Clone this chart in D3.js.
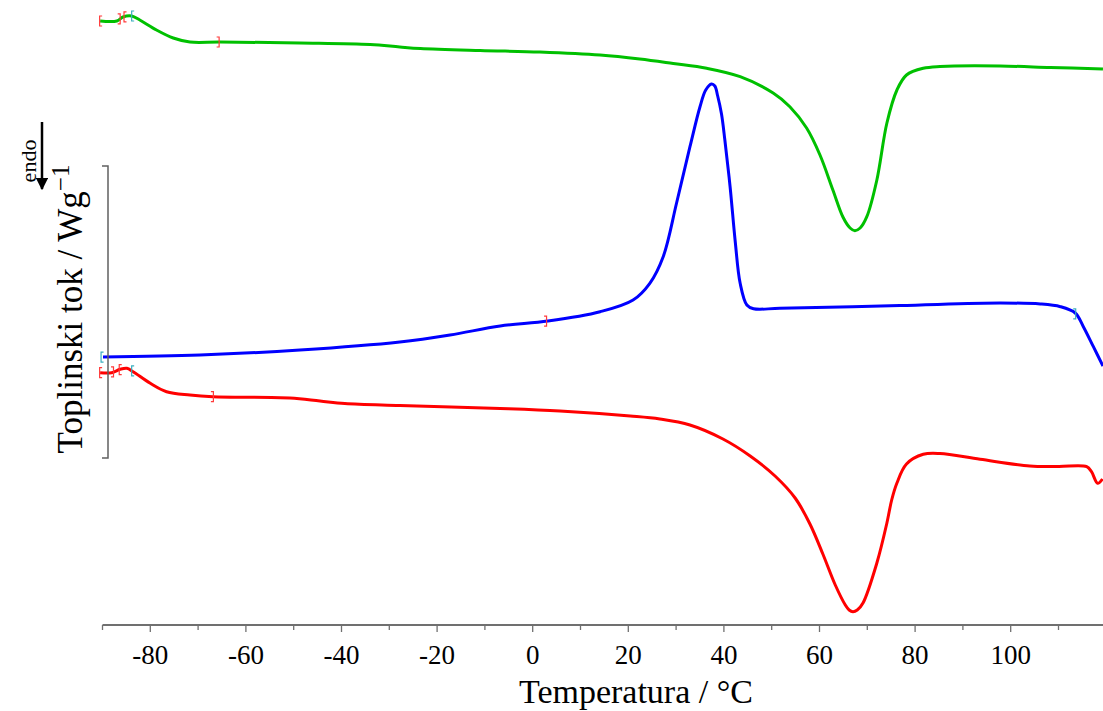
<!DOCTYPE html>
<html><head><meta charset="utf-8">
<script src="https://cdn.jsdelivr.net/npm/d3@7"></script>
<style>body{margin:0;background:#fff}svg{display:block}text{font-family:"Liberation Serif","Times New Roman",serif}</style>
</head><body>
<svg id="c" width="1103" height="711"></svg>
<script>
// Temperature (°C) / heat flow (W/g, offset curves)
const greenT = [-90.5,-87.0,-85.7,-83.9,-82.2,-78.7,-75.2,-71.7,-65.4,-48.7,-34.0,-27.8,-23.5,-11.0,1.5,14.1,22.4,29.4,36.4,43.4,50.3,53.8,57.3,60.1,62.8,64.9,66.4,67.4,68.5,69.9,72.0,74.1,76.2,78.2,81.7,85.2,97.8,108.3,119.3];
const greenV = [6.04,6.04,6.08,6.09,6.05,5.95,5.87,5.83,5.83,5.82,5.805,5.78,5.765,5.745,5.73,5.70,5.66,5.615,5.567,5.483,5.32,5.183,4.97,4.70,4.35,4.08,3.97,3.943,3.97,4.083,4.45,5.02,5.35,5.50,5.567,5.585,5.59,5.575,5.56];
const blueT = [-89.9,-69.6,-48.7,-27.8,-17.3,-6.8,3.2,14.1,21.0,24.5,27.3,30.1,32.9,35.0,36.2,37.4,38.1,38.7,39.5,40.2,41.3,42.4,43.4,44.8,46.2,51.7,76.8,97.8,106.2,110.4,113.5,115.2,117.3,119.3];
const blueV = [2.68,2.70,2.75,2.83,2.90,2.99,3.04,3.133,3.25,3.417,3.683,4.22,4.783,5.183,5.35,5.41,5.39,5.29,5.11,4.85,4.38,3.82,3.417,3.20,3.163,3.167,3.195,3.22,3.21,3.183,3.12,2.983,2.783,2.59];
const redT = [-90.5,-88.1,-86.3,-84.9,-83.6,-80.0,-76.6,-71.7,-66.9,-50.8,-44.5,-39.3,-27.8,-6.8,5.7,20.4,26.6,32.9,39.8,45.5,50.7,54.9,58.0,60.7,63.3,65.4,66.2,67.0,67.9,69.1,72.0,74.1,75.1,76.2,78.2,81.7,85.2,93.6,104.0,110.0,115.9,116.9,118.2,119.2];
const redV = [2.523,2.523,2.557,2.567,2.533,2.417,2.333,2.30,2.283,2.27,2.24,2.215,2.195,2.165,2.14,2.09,2.06,2.00,1.86,1.69,1.49,1.27,1.01,0.71,0.40,0.20,0.15,0.133,0.15,0.22,0.62,1.02,1.25,1.42,1.61,1.707,1.715,1.657,1.59,1.585,1.583,1.533,1.417,1.46];
// evaluation limit markers
const markSeries = ["green","green","green","green","green","red","red","red","red","red","blue","blue","blue"];
const markT = [-90.6,-86.3,-85.5,-83.9,-65.6,-90.6,-87.7,-86.5,-83.9,-66.8,-90.3,2.9,113.6];
const markSide = ["[","]","[","[","]","[","]","[","[","]","[","]","]"];
const markColor = ["red","red","red","cyan","red","red","red","red","cyan","red","cyan","red","cyan"];
const xTicks = [-90,-80,-70,-60,-50,-40,-30,-20,-10,0,10,20,30,40,50,60,70,80,90,100,110];
const xLabels = [-80,-60,-40,-20,0,20,40,60,80,100];
const scaleBar = [1.67,4.59];

const svg = d3.select("#c");
const x = d3.scaleLinear().domain([-90,120]).range([102.5,1106.3]);
const y = d3.scaleLinear().domain([0,6.25]).range([625,0]);

const series = [
  {name:"green", T:greenT, V:greenV, color:"#00c000"},
  {name:"blue", T:blueT, V:blueV, color:"#0000ff"},
  {name:"red", T:redT, V:redV, color:"#ff0000"}
];
const line = d3.line().x(d=>x(d[0])).y(d=>y(d[1])).curve(d3.curveCatmullRom.alpha(0.5));
series.forEach(s=>{
  s.pts = s.T.map((t,i)=>[t,s.V[i]]);
  svg.append("path").attr("d",line(s.pts)).attr("fill","none")
    .attr("stroke",s.color).attr("stroke-width",3).attr("stroke-linejoin","round");
});

// x axis
const axisColor="#707070";
svg.append("line").attr("x1",x(-90)).attr("x2",1103).attr("y1",625).attr("y2",625)
  .attr("stroke",axisColor).attr("stroke-width",2);
svg.selectAll(".tk").data(xTicks).enter().append("line")
  .attr("x1",d=>x(d)).attr("x2",d=>x(d)).attr("y1",625)
  .attr("y2",d=>xLabels.includes(d)?632:630)
  .attr("stroke",axisColor).attr("stroke-width",1.3);
svg.selectAll(".tl").data(xLabels).enter().append("text")
  .attr("x",d=>x(d)).attr("y",664).attr("text-anchor","middle")
  .attr("font-size",27).attr("fill","#000").text(d=>d);
svg.append("text").attr("x",636).attr("y",703).attr("text-anchor","middle")
  .attr("font-size",34).text("Temperatura / °C");

// scale bar on left
svg.append("path").attr("fill","none").attr("stroke","#606060").attr("stroke-width",1.5)
  .attr("d",`M102,${y(scaleBar[1])}H108V${y(scaleBar[0])}H102`);

// y title
const yt = svg.append("text").attr("transform","translate(82,309) rotate(-90)")
  .attr("text-anchor","middle").attr("font-size",35);
yt.append("tspan").text("Toplinski tok / Wg");
yt.append("tspan").attr("dy",-13).attr("font-size",25).text("−1");

// endo arrow
svg.append("text").attr("transform","translate(36,161) rotate(-90)")
  .attr("text-anchor","middle").attr("font-size",22).text("endo");
const defs = svg.append("defs");
defs.append("marker").attr("id","ah").attr("viewBox","0 0 10 10").attr("refX",9).attr("refY",5)
  .attr("markerWidth",5).attr("markerHeight",5).attr("orient","auto")
  .append("path").attr("d","M0,0L10,5L0,10Z").attr("fill","#000");
svg.append("line").attr("x1",42).attr("x2",42).attr("y1",122).attr("y2",189)
  .attr("stroke","#000").attr("stroke-width",2.5).attr("marker-end","url(#ah)");

// markers
const colMap = {red:"#ff3b3b", cyan:"#3aaec0"};
markT.forEach((t,i)=>{
  const s = series.find(q=>q.name===markSeries[i]);
  const v = d3.scaleLinear().domain(s.T).range(s.V)(t);
  const px = x(t), py = y(v), d = markSide[i]==="[" ? 2.5 : -2.5;
  svg.append("path").attr("fill","none").attr("stroke",colMap[markColor[i]]).attr("stroke-width",1.2)
    .attr("d",`M${px+d},${py-5}H${px}V${py+5}H${px+d}`);
});
</script>
</body></html>
